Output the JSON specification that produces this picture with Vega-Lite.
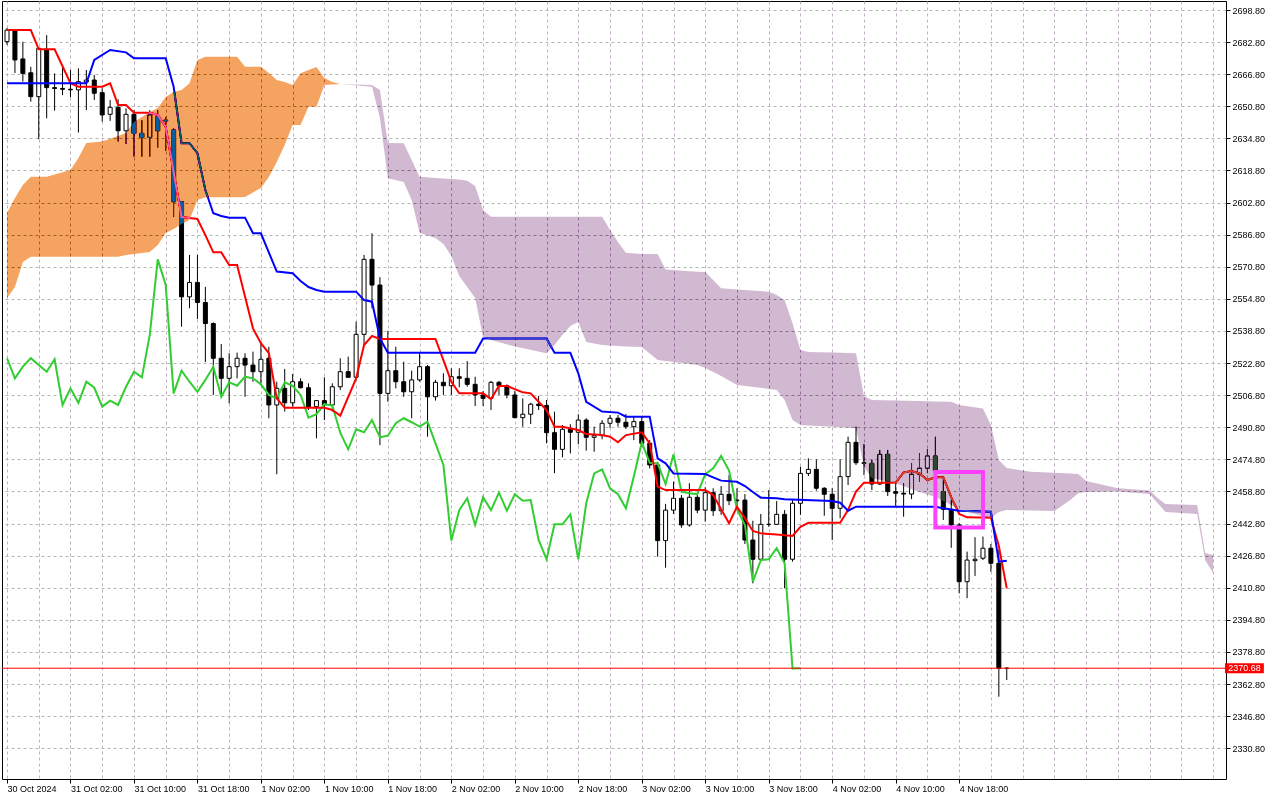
{
  "$schema": "https://vega.github.io/schema/vega-lite/v6.json",
  "autosize": {"type": "none"},
  "width": 1224,
  "height": 778,
  "padding": {"left": 2, "top": 1, "right": 54, "bottom": 21},
  "background": "#ffffff",
  "config": {
    "view": {"stroke": "#000000", "strokeWidth": 1, "fill": "#ffffff"},
    "axis": {"labelFont": "Liberation Sans", "labelFontSize": 9, "labelColor": "#000000", "domain": false}
  },
  "datasets": {
    "bars": [
      {"t": "2024-10-30T18:00Z", "o": 2683.0, "h": 2689.8, "l": 2681.4, "c": 2688.8, "lag": 2525.2},
      {"t": "2024-10-30T19:00Z", "o": 2688.8, "h": 2689.3, "l": 2667.4, "c": 2673.9, "lag": 2515.2},
      {"t": "2024-10-30T20:00Z", "o": 2674.4, "h": 2683.0, "l": 2663.1, "c": 2667.2, "lag": 2521.0},
      {"t": "2024-10-30T21:00Z", "o": 2667.5, "h": 2670.5, "l": 2653.1, "c": 2655.6, "lag": 2525.2},
      {"t": "2024-10-30T22:00Z", "o": 2655.6, "h": 2680.4, "l": 2634.4, "c": 2679.7, "lag": 2521.8},
      {"t": "2024-10-30T23:00Z", "o": 2679.2, "h": 2686.3, "l": 2644.8, "c": 2660.1, "lag": 2518.5},
      {"t": "2024-10-31T00:00Z", "o": 2660.1, "h": 2667.2, "l": 2648.6, "c": 2659.7, "lag": 2524.7},
      {"t": "2024-10-31T01:00Z", "o": 2659.7, "h": 2670.5, "l": 2656.4, "c": 2659.3, "lag": 2501.9},
      {"t": "2024-10-31T02:00Z", "o": 2659.3, "h": 2668.9, "l": 2655.3, "c": 2659.0, "lag": 2510.2},
      {"t": "2024-10-31T03:00Z", "o": 2659.0, "h": 2669.7, "l": 2637.7, "c": 2663.1, "lag": 2503.0},
      {"t": "2024-10-31T04:00Z", "o": 2662.9, "h": 2668.9, "l": 2648.9, "c": 2663.9, "lag": 2513.5},
      {"t": "2024-10-31T05:00Z", "o": 2663.9, "h": 2666.4, "l": 2653.9, "c": 2657.3, "lag": 2510.5},
      {"t": "2024-10-31T06:00Z", "o": 2657.6, "h": 2659.8, "l": 2643.1, "c": 2646.5, "lag": 2501.1},
      {"t": "2024-10-31T07:00Z", "o": 2646.8, "h": 2653.9, "l": 2643.5, "c": 2650.3, "lag": 2504.1},
      {"t": "2024-10-31T08:00Z", "o": 2650.3, "h": 2654.3, "l": 2633.2, "c": 2638.6, "lag": 2501.9},
      {"t": "2024-10-31T09:00Z", "o": 2638.6, "h": 2649.8, "l": 2632.0, "c": 2646.8, "lag": 2511.0},
      {"t": "2024-10-31T10:00Z", "o": 2646.8, "h": 2648.9, "l": 2625.7, "c": 2637.3, "lag": 2518.5},
      {"t": "2024-10-31T11:00Z", "o": 2637.3, "h": 2643.9, "l": 2625.7, "c": 2635.3, "lag": 2515.7},
      {"t": "2024-10-31T12:00Z", "o": 2635.3, "h": 2648.9, "l": 2625.7, "c": 2646.5, "lag": 2537.1},
      {"t": "2024-10-31T13:00Z", "o": 2645.6, "h": 2648.9, "l": 2630.2, "c": 2638.6, "lag": 2574.5},
      {"t": "2024-10-31T14:00Z", "o": 2643.9, "h": 2645.5, "l": 2628.5, "c": 2643.5, "lag": 2561.7},
      {"t": "2024-10-31T15:00Z", "o": 2639.0, "h": 2639.8, "l": 2595.7, "c": 2603.2, "lag": 2507.7},
      {"t": "2024-10-31T16:00Z", "o": 2603.2, "h": 2603.6, "l": 2540.9, "c": 2555.8, "lag": 2519.0},
      {"t": "2024-10-31T17:00Z", "o": 2555.8, "h": 2576.7, "l": 2550.1, "c": 2563.0, "lag": 2513.5},
      {"t": "2024-10-31T18:00Z", "o": 2563.0, "h": 2576.7, "l": 2544.8, "c": 2553.0, "lag": 2508.5},
      {"t": "2024-10-31T19:00Z", "o": 2553.0, "h": 2560.8, "l": 2523.3, "c": 2542.5, "lag": 2514.4},
      {"t": "2024-10-31T20:00Z", "o": 2542.5, "h": 2543.1, "l": 2506.9, "c": 2525.2, "lag": 2521.0},
      {"t": "2024-10-31T21:00Z", "o": 2525.2, "h": 2532.3, "l": 2506.9, "c": 2515.2, "lag": 2506.0},
      {"t": "2024-10-31T22:00Z", "o": 2515.2, "h": 2527.7, "l": 2502.7, "c": 2521.0, "lag": 2513.2},
      {"t": "2024-10-31T23:00Z", "o": 2521.0, "h": 2528.0, "l": 2515.2, "c": 2525.2, "lag": 2511.5},
      {"t": "2024-11-01T00:00Z", "o": 2525.2, "h": 2527.7, "l": 2506.0, "c": 2521.8, "lag": 2516.0},
      {"t": "2024-11-01T01:00Z", "o": 2521.8, "h": 2528.5, "l": 2513.5, "c": 2518.5, "lag": 2515.2},
      {"t": "2024-11-01T02:00Z", "o": 2518.5, "h": 2533.4, "l": 2512.7, "c": 2524.7, "lag": 2512.2},
      {"t": "2024-11-01T03:00Z", "o": 2525.2, "h": 2530.9, "l": 2495.3, "c": 2501.9, "lag": 2506.9},
      {"t": "2024-11-01T04:00Z", "o": 2501.9, "h": 2513.5, "l": 2467.4, "c": 2510.2, "lag": 2505.2},
      {"t": "2024-11-01T05:00Z", "o": 2510.2, "h": 2519.9, "l": 2498.6, "c": 2503.0, "lag": 2513.2},
      {"t": "2024-11-01T06:00Z", "o": 2503.0, "h": 2517.4, "l": 2501.1, "c": 2513.5, "lag": 2511.5},
      {"t": "2024-11-01T07:00Z", "o": 2513.5, "h": 2515.2, "l": 2510.2, "c": 2510.5, "lag": 2506.9},
      {"t": "2024-11-01T08:00Z", "o": 2510.5, "h": 2512.7, "l": 2499.4, "c": 2501.1, "lag": 2495.6},
      {"t": "2024-11-01T09:00Z", "o": 2501.1, "h": 2504.4, "l": 2485.3, "c": 2504.1, "lag": 2497.3},
      {"t": "2024-11-01T10:00Z", "o": 2504.1, "h": 2515.7, "l": 2494.4, "c": 2501.9, "lag": 2502.3},
      {"t": "2024-11-01T11:00Z", "o": 2501.9, "h": 2512.7, "l": 2498.6, "c": 2511.0, "lag": 2501.6},
      {"t": "2024-11-01T12:00Z", "o": 2511.0, "h": 2525.2, "l": 2509.4, "c": 2518.5, "lag": 2488.1},
      {"t": "2024-11-01T13:00Z", "o": 2518.5, "h": 2526.0, "l": 2515.7, "c": 2515.7, "lag": 2479.8},
      {"t": "2024-11-01T14:00Z", "o": 2515.7, "h": 2543.4, "l": 2514.4, "c": 2537.1, "lag": 2489.8},
      {"t": "2024-11-01T15:00Z", "o": 2537.1, "h": 2576.7, "l": 2531.8, "c": 2574.5, "lag": 2488.3},
      {"t": "2024-11-01T16:00Z", "o": 2574.5, "h": 2587.5, "l": 2550.1, "c": 2561.7, "lag": 2494.4},
      {"t": "2024-11-01T17:00Z", "o": 2561.7, "h": 2565.6, "l": 2481.9, "c": 2507.7, "lag": 2485.8},
      {"t": "2024-11-01T18:00Z", "o": 2507.7, "h": 2538.9, "l": 2503.5, "c": 2519.0, "lag": 2486.6},
      {"t": "2024-11-01T19:00Z", "o": 2519.0, "h": 2530.9, "l": 2510.2, "c": 2513.5, "lag": 2492.8},
      {"t": "2024-11-01T20:00Z", "o": 2513.5, "h": 2523.5, "l": 2506.0, "c": 2508.5, "lag": 2495.3},
      {"t": "2024-11-01T21:00Z", "o": 2508.5, "h": 2519.0, "l": 2495.3, "c": 2514.4, "lag": 2493.3},
      {"t": "2024-11-01T22:00Z", "o": 2514.4, "h": 2528.0, "l": 2513.5, "c": 2521.0, "lag": 2491.1},
      {"t": "2024-11-01T23:00Z", "o": 2521.0, "h": 2521.8, "l": 2486.1, "c": 2506.0, "lag": 2493.6},
      {"t": "2024-11-02T00:00Z", "o": 2506.0, "h": 2514.4, "l": 2504.1, "c": 2513.2, "lag": 2482.8},
      {"t": "2024-11-02T01:00Z", "o": 2513.2, "h": 2517.7, "l": 2506.9, "c": 2511.5, "lag": 2472.0},
      {"t": "2024-11-02T02:00Z", "o": 2511.5, "h": 2520.2, "l": 2506.9, "c": 2516.0, "lag": 2434.3},
      {"t": "2024-11-02T03:00Z", "o": 2516.0, "h": 2520.2, "l": 2510.7, "c": 2515.2, "lag": 2449.5},
      {"t": "2024-11-02T04:00Z", "o": 2515.2, "h": 2523.8, "l": 2511.0, "c": 2512.2, "lag": 2455.4},
      {"t": "2024-11-02T05:00Z", "o": 2512.2, "h": 2516.0, "l": 2501.4, "c": 2506.9, "lag": 2442.1},
      {"t": "2024-11-02T06:00Z", "o": 2506.9, "h": 2508.9, "l": 2501.4, "c": 2505.2, "lag": 2455.9},
      {"t": "2024-11-02T07:00Z", "o": 2505.2, "h": 2513.9, "l": 2499.4, "c": 2513.2, "lag": 2449.5},
      {"t": "2024-11-02T08:00Z", "o": 2513.2, "h": 2513.9, "l": 2506.9, "c": 2511.5, "lag": 2458.2},
      {"t": "2024-11-02T09:00Z", "o": 2511.5, "h": 2512.2, "l": 2505.2, "c": 2506.9, "lag": 2449.2},
      {"t": "2024-11-02T10:00Z", "o": 2506.9, "h": 2508.9, "l": 2495.3, "c": 2495.6, "lag": 2457.4},
      {"t": "2024-11-02T11:00Z", "o": 2495.6, "h": 2505.2, "l": 2491.1, "c": 2497.3, "lag": 2454.2},
      {"t": "2024-11-02T12:00Z", "o": 2497.3, "h": 2503.0, "l": 2492.4, "c": 2502.3, "lag": 2454.5},
      {"t": "2024-11-02T13:00Z", "o": 2502.3, "h": 2506.4, "l": 2499.4, "c": 2501.6, "lag": 2434.6},
      {"t": "2024-11-02T14:00Z", "o": 2501.6, "h": 2504.4, "l": 2482.8, "c": 2488.1, "lag": 2425.0},
      {"t": "2024-11-02T15:00Z", "o": 2488.1, "h": 2498.6, "l": 2467.9, "c": 2479.8, "lag": 2442.4},
      {"t": "2024-11-02T16:00Z", "o": 2479.8, "h": 2491.9, "l": 2475.8, "c": 2489.8, "lag": 2442.4},
      {"t": "2024-11-02T17:00Z", "o": 2489.8, "h": 2492.3, "l": 2477.8, "c": 2488.3, "lag": 2447.4},
      {"t": "2024-11-02T18:00Z", "o": 2488.3, "h": 2497.3, "l": 2482.3, "c": 2494.4, "lag": 2425.0},
      {"t": "2024-11-02T19:00Z", "o": 2494.4, "h": 2495.3, "l": 2479.1, "c": 2485.8, "lag": 2452.9},
      {"t": "2024-11-02T20:00Z", "o": 2485.8, "h": 2491.1, "l": 2478.6, "c": 2486.6, "lag": 2467.8},
      {"t": "2024-11-02T21:00Z", "o": 2486.6, "h": 2494.4, "l": 2484.8, "c": 2492.8, "lag": 2469.8},
      {"t": "2024-11-02T22:00Z", "o": 2492.8, "h": 2496.9, "l": 2490.6, "c": 2495.3, "lag": 2460.4},
      {"t": "2024-11-02T23:00Z", "o": 2495.3, "h": 2496.9, "l": 2491.1, "c": 2493.3, "lag": 2457.4},
      {"t": "2024-11-03T00:00Z", "o": 2493.3, "h": 2497.4, "l": 2489.9, "c": 2491.1, "lag": 2450.4},
      {"t": "2024-11-03T01:00Z", "o": 2491.1, "h": 2496.4, "l": 2484.4, "c": 2493.6, "lag": 2466.2},
      {"t": "2024-11-03T02:00Z", "o": 2493.6, "h": 2496.1, "l": 2481.1, "c": 2482.8, "lag": 2483.3},
      {"t": "2024-11-03T03:00Z", "o": 2482.8, "h": 2484.4, "l": 2470.3, "c": 2472.0, "lag": 2473.1},
      {"t": "2024-11-03T04:00Z", "o": 2472.0, "h": 2473.6, "l": 2426.3, "c": 2434.3, "lag": 2472.8},
      {"t": "2024-11-03T05:00Z", "o": 2434.3, "h": 2452.6, "l": 2420.8, "c": 2449.5, "lag": 2462.5},
      {"t": "2024-11-03T06:00Z", "o": 2449.5, "h": 2463.7, "l": 2447.6, "c": 2455.4, "lag": 2477.3},
      {"t": "2024-11-03T07:00Z", "o": 2455.4, "h": 2457.0, "l": 2440.7, "c": 2442.1, "lag": 2458.7},
      {"t": "2024-11-03T08:00Z", "o": 2442.1, "h": 2462.9, "l": 2441.2, "c": 2455.9, "lag": 2457.9},
      {"t": "2024-11-03T09:00Z", "o": 2455.9, "h": 2457.5, "l": 2447.9, "c": 2449.5, "lag": 2457.5},
      {"t": "2024-11-03T10:00Z", "o": 2449.5, "h": 2460.9, "l": 2443.7, "c": 2458.2, "lag": 2467.4},
      {"t": "2024-11-03T11:00Z", "o": 2458.2, "h": 2460.4, "l": 2446.6, "c": 2449.2, "lag": 2470.4},
      {"t": "2024-11-03T12:00Z", "o": 2449.2, "h": 2461.5, "l": 2447.1, "c": 2457.4, "lag": 2476.5},
      {"t": "2024-11-03T13:00Z", "o": 2457.4, "h": 2467.0, "l": 2452.0, "c": 2454.2, "lag": 2469.2},
      {"t": "2024-11-03T14:00Z", "o": 2454.2, "h": 2460.4, "l": 2451.2, "c": 2454.5, "lag": 2449.9},
      {"t": "2024-11-03T15:00Z", "o": 2454.5, "h": 2457.5, "l": 2432.6, "c": 2434.6, "lag": 2442.1},
      {"t": "2024-11-03T16:00Z", "o": 2434.6, "h": 2444.2, "l": 2413.0, "c": 2425.0, "lag": 2413.8},
      {"t": "2024-11-03T17:00Z", "o": 2425.0, "h": 2447.6, "l": 2423.8, "c": 2442.4, "lag": 2424.6},
      {"t": "2024-11-03T18:00Z", "o": 2442.4, "h": 2459.5, "l": 2441.2, "c": 2442.4, "lag": 2425.0},
      {"t": "2024-11-03T19:00Z", "o": 2442.4, "h": 2454.0, "l": 2442.1, "c": 2447.4, "lag": 2430.5},
      {"t": "2024-11-03T20:00Z", "o": 2447.4, "h": 2449.5, "l": 2410.5, "c": 2425.0, "lag": 2423.0},
      {"t": "2024-11-03T21:00Z", "o": 2425.0, "h": 2454.5, "l": 2423.8, "c": 2452.9, "lag": 2370.6},
      {"t": "2024-11-03T22:00Z", "o": 2452.9, "h": 2471.1, "l": 2447.1, "c": 2467.8, "lag": 2370.7},
      {"t": "2024-11-03T23:00Z", "o": 2467.8, "h": 2475.3, "l": 2466.5, "c": 2469.8},
      {"t": "2024-11-04T00:00Z", "o": 2469.8, "h": 2474.8, "l": 2459.2, "c": 2460.4},
      {"t": "2024-11-04T01:00Z", "o": 2460.4, "h": 2460.9, "l": 2446.7, "c": 2457.4},
      {"t": "2024-11-04T02:00Z", "o": 2457.4, "h": 2460.4, "l": 2434.6, "c": 2450.4},
      {"t": "2024-11-04T03:00Z", "o": 2450.4, "h": 2474.8, "l": 2445.4, "c": 2466.2},
      {"t": "2024-11-04T04:00Z", "o": 2466.2, "h": 2486.1, "l": 2462.0, "c": 2483.3},
      {"t": "2024-11-04T05:00Z", "o": 2483.3, "h": 2491.1, "l": 2472.0, "c": 2473.1},
      {"t": "2024-11-04T06:00Z", "o": 2473.1, "h": 2482.4, "l": 2467.0, "c": 2472.8},
      {"t": "2024-11-04T07:00Z", "o": 2472.8, "h": 2474.5, "l": 2459.5, "c": 2462.5},
      {"t": "2024-11-04T08:00Z", "o": 2462.5, "h": 2479.5, "l": 2462.0, "c": 2477.3},
      {"t": "2024-11-04T09:00Z", "o": 2477.3, "h": 2479.5, "l": 2456.5, "c": 2458.7},
      {"t": "2024-11-04T10:00Z", "o": 2458.7, "h": 2463.7, "l": 2451.5, "c": 2457.9},
      {"t": "2024-11-04T11:00Z", "o": 2457.9, "h": 2462.9, "l": 2446.2, "c": 2457.5},
      {"t": "2024-11-04T12:00Z", "o": 2457.5, "h": 2472.8, "l": 2455.0, "c": 2467.4},
      {"t": "2024-11-04T13:00Z", "o": 2467.4, "h": 2477.8, "l": 2463.7, "c": 2470.4},
      {"t": "2024-11-04T14:00Z", "o": 2470.4, "h": 2479.8, "l": 2467.9, "c": 2476.5},
      {"t": "2024-11-04T15:00Z", "o": 2476.5, "h": 2486.1, "l": 2465.9, "c": 2469.2},
      {"t": "2024-11-04T16:00Z", "o": 2458.7, "h": 2465.9, "l": 2444.6, "c": 2449.9},
      {"t": "2024-11-04T17:00Z", "o": 2449.9, "h": 2454.5, "l": 2430.7, "c": 2442.1},
      {"t": "2024-11-04T18:00Z", "o": 2442.1, "h": 2443.1, "l": 2408.0, "c": 2413.8},
      {"t": "2024-11-04T19:00Z", "o": 2413.8, "h": 2428.8, "l": 2405.6, "c": 2424.6},
      {"t": "2024-11-04T20:00Z", "o": 2424.3, "h": 2436.0, "l": 2416.7, "c": 2425.0},
      {"t": "2024-11-04T21:00Z", "o": 2425.5, "h": 2436.3, "l": 2424.6, "c": 2430.5},
      {"t": "2024-11-04T22:00Z", "o": 2430.5, "h": 2432.6, "l": 2418.8, "c": 2423.0},
      {"t": "2024-11-04T23:00Z", "o": 2423.0, "h": 2429.6, "l": 2356.5, "c": 2370.6},
      {"t": "2024-11-05T00:00Z", "o": 2370.6, "h": 2371.2, "l": 2364.8, "c": 2370.68}
    ],
    "tenkan": [
      {"t": "2024-10-30T18:00Z", "v": 2688.8}, {"t": "2024-10-30T21:00Z", "v": 2688.8},
      {"t": "2024-10-30T22:00Z", "v": 2679.2}, {"t": "2024-10-31T00:00Z", "v": 2679.2},
      {"t": "2024-10-31T02:00Z", "v": 2662.3}, {"t": "2024-10-31T03:00Z", "v": 2660.6},
      {"t": "2024-10-31T06:00Z", "v": 2660.6}, {"t": "2024-10-31T07:00Z", "v": 2662.3},
      {"t": "2024-10-31T08:00Z", "v": 2651.4}, {"t": "2024-10-31T09:00Z", "v": 2651.4},
      {"t": "2024-10-31T10:00Z", "v": 2647.6}, {"t": "2024-10-31T12:00Z", "v": 2647.6},
      {"t": "2024-10-31T13:00Z", "v": 2646.5}, {"t": "2024-10-31T14:00Z", "v": 2640.5},
      {"t": "2024-10-31T15:00Z", "v": 2618.0}, {"t": "2024-10-31T16:00Z", "v": 2595.6},
      {"t": "2024-10-31T18:00Z", "v": 2594.6}, {"t": "2024-10-31T19:00Z", "v": 2586.6},
      {"t": "2024-10-31T20:00Z", "v": 2578.0}, {"t": "2024-10-31T21:00Z", "v": 2578.0},
      {"t": "2024-10-31T22:00Z", "v": 2571.7}, {"t": "2024-10-31T23:00Z", "v": 2571.7},
      {"t": "2024-11-01T01:00Z", "v": 2540.1}, {"t": "2024-11-01T02:00Z", "v": 2532.7},
      {"t": "2024-11-01T03:00Z", "v": 2527.7}, {"t": "2024-11-01T04:00Z", "v": 2505.2},
      {"t": "2024-11-01T05:00Z", "v": 2500.5}, {"t": "2024-11-01T10:00Z", "v": 2500.5},
      {"t": "2024-11-01T11:00Z", "v": 2499.4}, {"t": "2024-11-01T12:00Z", "v": 2496.6},
      {"t": "2024-11-01T14:00Z", "v": 2515.2}, {"t": "2024-11-01T15:00Z", "v": 2531.8},
      {"t": "2024-11-01T16:00Z", "v": 2536.3}, {"t": "2024-11-01T17:00Z", "v": 2534.8},
      {"t": "2024-11-02T00:00Z", "v": 2534.8}, {"t": "2024-11-02T01:00Z", "v": 2524.3},
      {"t": "2024-11-02T02:00Z", "v": 2513.5}, {"t": "2024-11-02T03:00Z", "v": 2507.7},
      {"t": "2024-11-02T06:00Z", "v": 2507.7}, {"t": "2024-11-02T07:00Z", "v": 2504.9},
      {"t": "2024-11-02T08:00Z", "v": 2511.4}, {"t": "2024-11-02T09:00Z", "v": 2511.4},
      {"t": "2024-11-02T11:00Z", "v": 2508.2}, {"t": "2024-11-02T12:00Z", "v": 2507.7},
      {"t": "2024-11-02T13:00Z", "v": 2503.5}, {"t": "2024-11-02T14:00Z", "v": 2499.4},
      {"t": "2024-11-02T15:00Z", "v": 2491.1}, {"t": "2024-11-02T16:00Z", "v": 2491.1},
      {"t": "2024-11-02T18:00Z", "v": 2489.4}, {"t": "2024-11-02T19:00Z", "v": 2487.4},
      {"t": "2024-11-02T21:00Z", "v": 2486.9}, {"t": "2024-11-02T22:00Z", "v": 2486.1},
      {"t": "2024-11-02T23:00Z", "v": 2483.3}, {"t": "2024-11-03T00:00Z", "v": 2486.9},
      {"t": "2024-11-03T02:00Z", "v": 2488.3}, {"t": "2024-11-03T03:00Z", "v": 2482.8},
      {"t": "2024-11-03T04:00Z", "v": 2461.2}, {"t": "2024-11-03T05:00Z", "v": 2459.5},
      {"t": "2024-11-03T10:00Z", "v": 2459.5}, {"t": "2024-11-03T11:00Z", "v": 2457.0},
      {"t": "2024-11-03T12:00Z", "v": 2449.9}, {"t": "2024-11-03T13:00Z", "v": 2442.9},
      {"t": "2024-11-03T14:00Z", "v": 2451.2}, {"t": "2024-11-03T15:00Z", "v": 2445.4},
      {"t": "2024-11-03T16:00Z", "v": 2439.1}, {"t": "2024-11-03T17:00Z", "v": 2437.9},
      {"t": "2024-11-03T19:00Z", "v": 2437.4}, {"t": "2024-11-03T21:00Z", "v": 2436.6},
      {"t": "2024-11-03T22:00Z", "v": 2441.2}, {"t": "2024-11-03T23:00Z", "v": 2443.2},
      {"t": "2024-11-04T03:00Z", "v": 2443.2}, {"t": "2024-11-04T04:00Z", "v": 2449.6},
      {"t": "2024-11-04T05:00Z", "v": 2458.7}, {"t": "2024-11-04T06:00Z", "v": 2463.2},
      {"t": "2024-11-04T10:00Z", "v": 2463.2}, {"t": "2024-11-04T11:00Z", "v": 2468.3},
      {"t": "2024-11-04T12:00Z", "v": 2469.0}, {"t": "2024-11-04T13:00Z", "v": 2467.8},
      {"t": "2024-11-04T14:00Z", "v": 2464.5}, {"t": "2024-11-04T15:00Z", "v": 2465.9},
      {"t": "2024-11-04T16:00Z", "v": 2465.9}, {"t": "2024-11-04T17:00Z", "v": 2456.0},
      {"t": "2024-11-04T18:00Z", "v": 2447.6}, {"t": "2024-11-04T19:00Z", "v": 2445.9},
      {"t": "2024-11-04T22:00Z", "v": 2445.7}, {"t": "2024-11-04T23:00Z", "v": 2431.6},
      {"t": "2024-11-05T00:00Z", "v": 2410.5}
    ],
    "kijun": [
      {"t": "2024-10-30T18:00Z", "v": 2662.3}, {"t": "2024-10-31T04:00Z", "v": 2662.3},
      {"t": "2024-10-31T05:00Z", "v": 2673.9}, {"t": "2024-10-31T07:00Z", "v": 2678.9},
      {"t": "2024-10-31T09:00Z", "v": 2677.7}, {"t": "2024-10-31T10:00Z", "v": 2674.7},
      {"t": "2024-10-31T14:00Z", "v": 2674.7}, {"t": "2024-10-31T15:00Z", "v": 2660.6},
      {"t": "2024-10-31T16:00Z", "v": 2632.4}, {"t": "2024-10-31T17:00Z", "v": 2632.4},
      {"t": "2024-10-31T18:00Z", "v": 2627.4}, {"t": "2024-10-31T19:00Z", "v": 2609.1},
      {"t": "2024-10-31T20:00Z", "v": 2597.5}, {"t": "2024-10-31T21:00Z", "v": 2596.1},
      {"t": "2024-10-31T22:00Z", "v": 2595.3}, {"t": "2024-11-01T00:00Z", "v": 2595.3},
      {"t": "2024-11-01T01:00Z", "v": 2587.5}, {"t": "2024-11-01T02:00Z", "v": 2587.5},
      {"t": "2024-11-01T04:00Z", "v": 2568.4}, {"t": "2024-11-01T06:00Z", "v": 2567.6},
      {"t": "2024-11-01T07:00Z", "v": 2563.7}, {"t": "2024-11-01T08:00Z", "v": 2560.7},
      {"t": "2024-11-01T09:00Z", "v": 2559.2}, {"t": "2024-11-01T10:00Z", "v": 2558.4},
      {"t": "2024-11-01T14:00Z", "v": 2558.4}, {"t": "2024-11-01T15:00Z", "v": 2554.2},
      {"t": "2024-11-01T16:00Z", "v": 2553.4}, {"t": "2024-11-01T17:00Z", "v": 2535.1},
      {"t": "2024-11-01T18:00Z", "v": 2527.9}, {"t": "2024-11-02T05:00Z", "v": 2527.9},
      {"t": "2024-11-02T06:00Z", "v": 2535.1}, {"t": "2024-11-02T14:00Z", "v": 2535.1},
      {"t": "2024-11-02T15:00Z", "v": 2527.9}, {"t": "2024-11-02T17:00Z", "v": 2527.9},
      {"t": "2024-11-02T18:00Z", "v": 2517.7}, {"t": "2024-11-02T19:00Z", "v": 2503.5},
      {"t": "2024-11-02T21:00Z", "v": 2498.6}, {"t": "2024-11-02T23:00Z", "v": 2498.1},
      {"t": "2024-11-03T00:00Z", "v": 2496.1}, {"t": "2024-11-03T03:00Z", "v": 2496.1},
      {"t": "2024-11-03T04:00Z", "v": 2475.3}, {"t": "2024-11-03T05:00Z", "v": 2472.8},
      {"t": "2024-11-03T06:00Z", "v": 2467.8}, {"t": "2024-11-03T10:00Z", "v": 2467.5},
      {"t": "2024-11-03T11:00Z", "v": 2465.8}, {"t": "2024-11-03T12:00Z", "v": 2464.2},
      {"t": "2024-11-03T14:00Z", "v": 2463.6}, {"t": "2024-11-03T15:00Z", "v": 2461.5},
      {"t": "2024-11-03T16:00Z", "v": 2458.5}, {"t": "2024-11-03T17:00Z", "v": 2455.7},
      {"t": "2024-11-03T19:00Z", "v": 2455.4}, {"t": "2024-11-03T20:00Z", "v": 2454.9},
      {"t": "2024-11-04T02:00Z", "v": 2454.0}, {"t": "2024-11-04T03:00Z", "v": 2453.2},
      {"t": "2024-11-04T04:00Z", "v": 2449.2}, {"t": "2024-11-04T05:00Z", "v": 2451.2},
      {"t": "2024-11-04T15:00Z", "v": 2451.2}, {"t": "2024-11-04T16:00Z", "v": 2450.4},
      {"t": "2024-11-04T18:00Z", "v": 2449.2}, {"t": "2024-11-04T22:00Z", "v": 2448.7},
      {"t": "2024-11-04T23:00Z", "v": 2423.8}, {"t": "2024-11-05T00:00Z", "v": 2424.3}
    ],
    "kumoUp": [
      {"t": "2024-10-30T18:00Z", "a": 2597.6, "b": 2555.2},
      {"t": "2024-10-30T19:00Z", "a": 2605.1, "b": 2560.7},
      {"t": "2024-10-30T20:00Z", "a": 2611.6, "b": 2573.2},
      {"t": "2024-10-30T21:00Z", "a": 2615.7, "b": 2575.8},
      {"t": "2024-10-30T23:00Z", "a": 2615.7, "b": 2575.8},
      {"t": "2024-10-31T02:00Z", "a": 2619.0, "b": 2575.8},
      {"t": "2024-10-31T03:00Z", "a": 2625.0, "b": 2575.8},
      {"t": "2024-10-31T04:00Z", "a": 2632.5, "b": 2575.8},
      {"t": "2024-10-31T06:00Z", "a": 2633.2, "b": 2575.8},
      {"t": "2024-10-31T08:00Z", "a": 2636.0, "b": 2575.8},
      {"t": "2024-10-31T09:00Z", "a": 2637.5, "b": 2576.7},
      {"t": "2024-10-31T10:00Z", "a": 2643.0, "b": 2577.2},
      {"t": "2024-10-31T12:00Z", "a": 2648.0, "b": 2578.2},
      {"t": "2024-10-31T13:00Z", "a": 2650.0, "b": 2581.7},
      {"t": "2024-10-31T14:00Z", "a": 2655.4, "b": 2587.6},
      {"t": "2024-10-31T15:00Z", "a": 2657.9, "b": 2589.6},
      {"t": "2024-10-31T16:00Z", "a": 2658.9, "b": 2592.1},
      {"t": "2024-10-31T17:00Z", "a": 2662.3, "b": 2594.1},
      {"t": "2024-10-31T18:00Z", "a": 2673.9, "b": 2604.1},
      {"t": "2024-10-31T19:00Z", "a": 2675.5, "b": 2605.4},
      {"t": "2024-10-31T23:00Z", "a": 2675.5, "b": 2605.4},
      {"t": "2024-11-01T00:00Z", "a": 2670.5, "b": 2605.6},
      {"t": "2024-11-01T02:00Z", "a": 2670.5, "b": 2610.1},
      {"t": "2024-11-01T03:00Z", "a": 2667.4, "b": 2615.6},
      {"t": "2024-11-01T04:00Z", "a": 2663.9, "b": 2623.0},
      {"t": "2024-11-01T05:00Z", "a": 2662.9, "b": 2631.5},
      {"t": "2024-11-01T06:00Z", "a": 2661.4, "b": 2641.5},
      {"t": "2024-11-01T07:00Z", "a": 2667.3, "b": 2641.5},
      {"t": "2024-11-01T08:00Z", "a": 2668.9, "b": 2650.6},
      {"t": "2024-11-01T09:00Z", "a": 2670.4, "b": 2650.6},
      {"t": "2024-11-01T10:00Z", "a": 2664.9, "b": 2661.4},
      {"t": "2024-11-01T11:00Z", "a": 2662.9, "b": 2661.7},
      {"t": "2024-11-01T12:00Z", "a": 2661.9, "b": 2661.9}
    ],
    "kumoDn": [
      {"t": "2024-11-01T12:00Z", "a": 2661.9, "b": 2661.9},
      {"t": "2024-11-01T16:00Z", "a": 2661.4, "b": 2660.6},
      {"t": "2024-11-01T17:00Z", "a": 2658.9, "b": 2645.0},
      {"t": "2024-11-01T18:00Z", "a": 2632.5, "b": 2614.9},
      {"t": "2024-11-01T20:00Z", "a": 2632.4, "b": 2613.1},
      {"t": "2024-11-01T21:00Z", "a": 2624.0, "b": 2604.1},
      {"t": "2024-11-01T22:00Z", "a": 2615.7, "b": 2587.6},
      {"t": "2024-11-02T00:00Z", "a": 2615.1, "b": 2585.2},
      {"t": "2024-11-02T01:00Z", "a": 2614.8, "b": 2582.1},
      {"t": "2024-11-02T02:00Z", "a": 2614.6, "b": 2576.2},
      {"t": "2024-11-02T03:00Z", "a": 2614.3, "b": 2566.2},
      {"t": "2024-11-02T04:00Z", "a": 2613.7, "b": 2560.7},
      {"t": "2024-11-02T05:00Z", "a": 2611.1, "b": 2555.2},
      {"t": "2024-11-02T06:00Z", "a": 2599.1, "b": 2535.8},
      {"t": "2024-11-02T07:00Z", "a": 2595.8, "b": 2534.3},
      {"t": "2024-11-02T10:00Z", "a": 2595.8, "b": 2531.0},
      {"t": "2024-11-02T14:00Z", "a": 2595.8, "b": 2527.7},
      {"t": "2024-11-02T15:00Z", "a": 2595.8, "b": 2531.8},
      {"t": "2024-11-02T16:00Z", "a": 2595.8, "b": 2536.8},
      {"t": "2024-11-02T17:00Z", "a": 2595.8, "b": 2541.3},
      {"t": "2024-11-02T18:00Z", "a": 2595.8, "b": 2543.3},
      {"t": "2024-11-02T19:00Z", "a": 2595.8, "b": 2533.3},
      {"t": "2024-11-02T21:00Z", "a": 2595.8, "b": 2531.8},
      {"t": "2024-11-02T22:00Z", "a": 2589.1, "b": 2531.5},
      {"t": "2024-11-02T23:00Z", "a": 2583.2, "b": 2531.3},
      {"t": "2024-11-03T00:00Z", "a": 2577.8, "b": 2531.1},
      {"t": "2024-11-03T02:00Z", "a": 2577.2, "b": 2530.8},
      {"t": "2024-11-03T04:00Z", "a": 2577.2, "b": 2524.3},
      {"t": "2024-11-03T05:00Z", "a": 2569.5, "b": 2523.8},
      {"t": "2024-11-03T09:00Z", "a": 2568.3, "b": 2521.8},
      {"t": "2024-11-03T10:00Z", "a": 2568.2, "b": 2520.3},
      {"t": "2024-11-03T11:00Z", "a": 2564.2, "b": 2518.3},
      {"t": "2024-11-03T12:00Z", "a": 2560.1, "b": 2516.4},
      {"t": "2024-11-03T14:00Z", "a": 2559.5, "b": 2511.9},
      {"t": "2024-11-03T18:00Z", "a": 2558.4, "b": 2509.9},
      {"t": "2024-11-03T19:00Z", "a": 2556.7, "b": 2509.4},
      {"t": "2024-11-03T20:00Z", "a": 2554.2, "b": 2504.4},
      {"t": "2024-11-03T21:00Z", "a": 2542.6, "b": 2494.4},
      {"t": "2024-11-03T22:00Z", "a": 2529.3, "b": 2491.9},
      {"t": "2024-11-03T23:00Z", "a": 2528.3, "b": 2491.7},
      {"t": "2024-11-04T02:00Z", "a": 2528.1, "b": 2491.1},
      {"t": "2024-11-04T05:00Z", "a": 2527.7, "b": 2490.3},
      {"t": "2024-11-04T06:00Z", "a": 2506.4, "b": 2471.1},
      {"t": "2024-11-04T07:00Z", "a": 2504.4, "b": 2465.4},
      {"t": "2024-11-04T10:00Z", "a": 2504.2, "b": 2462.9},
      {"t": "2024-11-04T13:00Z", "a": 2503.9, "b": 2458.5},
      {"t": "2024-11-04T15:00Z", "a": 2503.7, "b": 2456.0},
      {"t": "2024-11-04T17:00Z", "a": 2503.5, "b": 2452.0},
      {"t": "2024-11-04T18:00Z", "a": 2501.9, "b": 2449.5},
      {"t": "2024-11-04T21:00Z", "a": 2500.2, "b": 2446.6},
      {"t": "2024-11-04T22:00Z", "a": 2491.9, "b": 2445.4},
      {"t": "2024-11-04T23:00Z", "a": 2474.5, "b": 2448.6},
      {"t": "2024-11-05T00:00Z", "a": 2470.5, "b": 2449.5},
      {"t": "2024-11-05T03:00Z", "a": 2468.6, "b": 2449.3},
      {"t": "2024-11-05T06:00Z", "a": 2468.1, "b": 2449.0},
      {"t": "2024-11-05T08:00Z", "a": 2467.7, "b": 2454.5},
      {"t": "2024-11-05T09:00Z", "a": 2467.5, "b": 2457.9},
      {"t": "2024-11-05T10:00Z", "a": 2464.0, "b": 2458.5},
      {"t": "2024-11-05T14:00Z", "a": 2460.4, "b": 2458.8},
      {"t": "2024-11-05T18:00Z", "a": 2459.3, "b": 2457.5},
      {"t": "2024-11-05T19:00Z", "a": 2455.5, "b": 2453.0},
      {"t": "2024-11-05T20:00Z", "a": 2452.5, "b": 2448.6},
      {"t": "2024-11-06T00:00Z", "a": 2452.0, "b": 2447.6},
      {"t": "2024-11-06T01:00Z", "a": 2428.1, "b": 2424.6},
      {"t": "2024-11-06T02:00Z", "a": 2427.1, "b": 2418.1}
    ],
    "last": [{"p": 2370.68}],
    "box": [{"t1": "2024-11-04T15:00Z", "t2": "2024-11-04T21:00Z", "p1": 2468.5, "p2": 2440.8}]
  },
  "layer": [
    {
      "data": {"name": "bars"},
      "mark": {"type": "rule", "color": "#000000", "strokeWidth": 1, "clip": true},
      "encoding": {
        "x": {
          "field": "t", "type": "temporal", "title": null,
          "scale": {"type": "utc", "domain": [1730311200000, 1730862000000], "nice": false},
          "axis": {
            "title": null, "tickCount": 500,
            "values": [1730311200000, 1730325600000, 1730340000000, 1730354400000, 1730368800000, 1730383200000, 1730397600000, 1730412000000, 1730426400000, 1730440800000, 1730455200000, 1730469600000, 1730484000000, 1730498400000, 1730512800000, 1730527200000, 1730541600000, 1730556000000, 1730570400000, 1730584800000, 1730599200000, 1730613600000, 1730628000000, 1730642400000, 1730656800000, 1730671200000, 1730685600000, 1730700000000, 1730714400000, 1730728800000, 1730743200000, 1730757600000, 1730772000000, 1730786400000, 1730800800000, 1730815200000, 1730829600000, 1730844000000, 1730858400000],
            "grid": true, "gridColor": "#c2afc6", "gridDash": [3, 3], "gridWidth": 1,
            "ticks": true, "tickSize": 4, "tickColor": "#000000",
            "tickOpacity": {"condition": {"test": "(datum.value - 1730311200000) % 28800000 == 0 && datum.value <= 1730743200000", "value": 1}, "value": 0},
            "labelExpr": "(datum.value - 1730311200000) == 0 ? '30 Oct 2024' : (((datum.value - 1730311200000) % 28800000 == 0 && datum.value <= 1730743200000) ? utcFormat(datum.value, '%-d %b %H:%M') : '')",
            "labelAlign": "left", "labelBaseline": "top", "labelPadding": 1,
            "labelOverlap": false, "labelFlush": false, "labelBound": false
          }
        },
        "y": {
          "field": "l", "type": "quantitative", "title": null,
          "scale": {"domain": [2315.46, 2703.29], "nice": false, "zero": false},
          "axis": {
            "title": null, "orient": "right", "tickCount": 500,
            "values": [2330.8, 2346.8, 2362.8, 2378.8, 2394.8, 2410.8, 2426.8, 2442.8, 2458.8, 2474.8, 2490.8, 2506.8, 2522.8, 2538.8, 2554.8, 2570.8, 2586.8, 2602.8, 2618.8, 2634.8, 2650.8, 2666.8, 2682.8, 2698.8],
            "format": ".2f", "grid": true, "gridColor": "#b0b9b0", "gridDash": [3, 3],
            "tickSize": 4, "tickColor": "#000000", "labelPadding": 2,
            "labelOverlap": false, "labelFlush": false, "labelBound": false
          }
        },
        "y2": {"field": "h"}
      }
    },
    {
      "data": {"name": "bars"},
      "mark": {"type": "bar", "size": 4, "stroke": "#000000", "strokeWidth": 1, "clip": true},
      "encoding": {
        "x": {"field": "t", "type": "temporal", "title": null, "scale": {"type": "utc", "domain": [1730311200000, 1730862000000], "nice": false}},
        "y": {"field": "o", "type": "quantitative", "title": null, "scale": {"domain": [2315.46, 2703.29], "nice": false, "zero": false}},
        "y2": {"field": "c"},
        "fill": {"condition": {"test": "datum.c > datum.o", "value": "#ffffff"}, "value": "#000000"}
      }
    },
    {
      "data": {"name": "bars"},
      "mark": {"type": "line", "color": "#32cd32", "strokeWidth": 2, "clip": true},
      "encoding": {
        "x": {"field": "t", "type": "temporal", "title": null, "scale": {"type": "utc", "domain": [1730311200000, 1730862000000], "nice": false}},
        "y": {"field": "lag", "type": "quantitative", "title": null, "scale": {"domain": [2315.46, 2703.29], "nice": false, "zero": false}}
      }
    },
    {
      "data": {"name": "tenkan"},
      "mark": {"type": "line", "color": "#ff0000", "strokeWidth": 2},
      "encoding": {
        "x": {"field": "t", "type": "temporal", "title": null, "scale": {"type": "utc", "domain": [1730311200000, 1730862000000], "nice": false}},
        "y": {"field": "v", "type": "quantitative", "title": null, "scale": {"domain": [2315.46, 2703.29], "nice": false, "zero": false}}
      }
    },
    {
      "data": {"name": "kijun"},
      "mark": {"type": "line", "color": "#0000ff", "strokeWidth": 2},
      "encoding": {
        "x": {"field": "t", "type": "temporal", "title": null, "scale": {"type": "utc", "domain": [1730311200000, 1730862000000], "nice": false}},
        "y": {"field": "v", "type": "quantitative", "title": null, "scale": {"domain": [2315.46, 2703.29], "nice": false, "zero": false}}
      }
    },
    {
      "data": {"name": "kumoUp"},
      "mark": {"type": "area", "color": "#0b5b9f", "blend": "difference"},
      "encoding": {
        "x": {"field": "t", "type": "temporal", "title": null, "scale": {"type": "utc", "domain": [1730311200000, 1730862000000], "nice": false}},
        "y": {"field": "a", "type": "quantitative", "title": null, "scale": {"domain": [2315.46, 2703.29], "nice": false, "zero": false}},
        "y2": {"field": "b"}
      }
    },
    {
      "data": {"name": "kumoDn"},
      "mark": {"type": "area", "color": "#2d462d", "blend": "difference"},
      "encoding": {
        "x": {"field": "t", "type": "temporal", "title": null, "scale": {"type": "utc", "domain": [1730311200000, 1730862000000], "nice": false}},
        "y": {"field": "a", "type": "quantitative", "title": null, "scale": {"domain": [2315.46, 2703.29], "nice": false, "zero": false}},
        "y2": {"field": "b"}
      }
    },
    {
      "data": {"name": "last"},
      "mark": {"type": "rule", "color": "#ff0000", "strokeWidth": 1},
      "encoding": {
        "y": {"field": "p", "type": "quantitative", "title": null, "scale": {"domain": [2315.46, 2703.29], "nice": false, "zero": false}}
      }
    },
    {
      "data": {"name": "box"},
      "mark": {"type": "rect", "filled": false, "stroke": "#ff40ff", "strokeWidth": 4},
      "encoding": {
        "x": {"field": "t1", "type": "temporal", "title": null, "scale": {"type": "utc", "domain": [1730311200000, 1730862000000], "nice": false}},
        "x2": {"field": "t2"},
        "y": {"field": "p1", "type": "quantitative", "title": null, "scale": {"domain": [2315.46, 2703.29], "nice": false, "zero": false}},
        "y2": {"field": "p2"}
      }
    },
    {
      "data": {"values": [{}]},
      "mark": {"type": "rect", "color": "#ff0000"},
      "encoding": {
        "x": {"datum": 1730863800000, "type": "temporal", "title": null, "scale": {"type": "utc", "domain": [1730311200000, 1730862000000], "nice": false}},
        "x2": {"datum": 1730881440000},
        "y": {"datum": 2373.2, "type": "quantitative", "title": null, "scale": {"domain": [2315.46, 2703.29], "nice": false, "zero": false}},
        "y2": {"datum": 2368.2}
      }
    },
    {
      "data": {"values": [{}]},
      "mark": {"type": "text", "color": "#ffffff", "font": "Liberation Sans", "fontSize": 9, "align": "center", "baseline": "middle"},
      "encoding": {
        "x": {"datum": 1730872620000, "type": "temporal", "title": null, "scale": {"type": "utc", "domain": [1730311200000, 1730862000000], "nice": false}},
        "y": {"datum": 2370.68, "type": "quantitative", "title": null, "scale": {"domain": [2315.46, 2703.29], "nice": false, "zero": false}},
        "text": {"value": "2370.68"}
      }
    }
  ]
}
